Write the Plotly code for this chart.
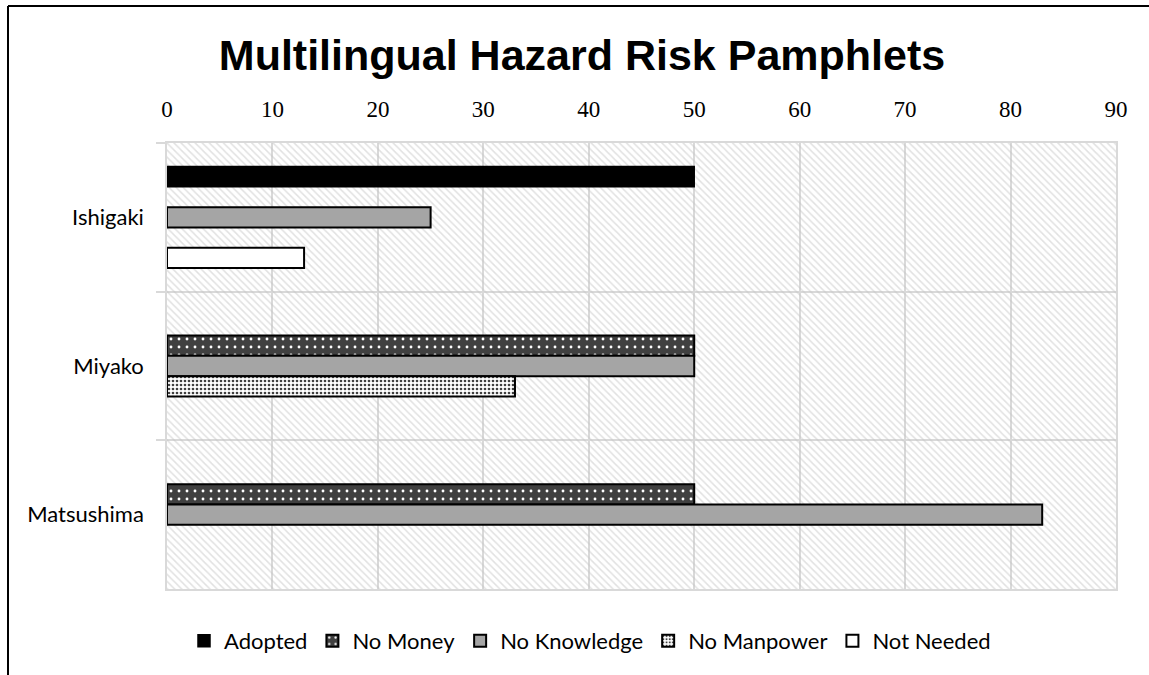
import plotly.graph_objects as go

categories = ["Ishigaki", "Miyako", "Matsushima"]
series_names = ["Adopted", "No Money", "No Knowledge", "No Manpower", "Not Needed"]
adopted = [50, 0, 0]
no_money = [0, 50, 50]
no_knowledge = [25, 50, 83]
no_manpower = [0, 33, 0]
not_needed = [13, 0, 0]
x_ticks = [0, 10, 20, 30, 40, 50, 60, 70, 80, 90]
title_text = "Multilingual Hazard Risk Pamphlets"

W, H = 1149, 675
L, R, T, B = 167, 1116, 143, 589
pw, ph = R - L, B - T

def px_x(p):
    return (p - L) / pw

def px_y(p):
    return (B - p) / ph

styles = {
    "Adopted": dict(color="#000000", line=dict(color="#000000", width=1.5)),
    "No Money": dict(color="#404040", line=dict(color="#000000", width=2),
                     pattern=dict(shape=".", fgcolor="#ffffff", bgcolor="#404040", size=8, solidity=0.1, fillmode="replace")),
    "No Knowledge": dict(color="#a5a5a5", line=dict(color="#000000", width=2)),
    "No Manpower": dict(color="#ffffff", line=dict(color="#000000", width=2),
                        pattern=dict(shape=".", fgcolor="#404040", bgcolor="#ffffff", size=4, solidity=0.35, fillmode="replace")),
    "Not Needed": dict(color="#ffffff", line=dict(color="#000000", width=2)),
}
values = [adopted, no_money, no_knowledge, no_manpower, not_needed]

fig = go.Figure()

# hatched plot-area background (transparent base so gridlines show)
fig.add_trace(go.Bar(
    x=[x_ticks[-1]], y=[1], width=[3], orientation="h", base=[0],
    marker=dict(color="rgba(0,0,0,0)", line=dict(width=0),
                pattern=dict(shape="\\", fgcolor="#c4c4c4", bgcolor="rgba(0,0,0,0)", size=5, solidity=0.3)),
    showlegend=False, hoverinfo="skip", xaxis="x", yaxis="y",
))

for name, vals in zip(series_names, values):
    fig.add_trace(go.Bar(
        name=name, x=[v if v else None for v in vals], y=categories, orientation="h",
        marker=styles[name], xaxis="x", yaxis="y2",
    ))

grid = "#d9d9d9"
fig.update_layout(
    width=W, height=H,
    margin=dict(l=L, r=W - R, t=T, b=H - B, autoexpand=False),
    paper_bgcolor="white", plot_bgcolor="white",
    barmode="group", bargap=0.317, bargroupgap=0,
    title=dict(text="<b>" + title_text + "</b>", x=px_x(582), xref="paper", xanchor="center",
               y=1 - 55 / H, yref="container", yanchor="middle",
               font=dict(family="Liberation Sans", size=43, color="#000000")),
    xaxis=dict(range=[0, 90], side="top", tickvals=x_ticks, showgrid=True, gridcolor=grid, gridwidth=1.5,
               showline=True, mirror=True, linecolor=grid, linewidth=1.5, zeroline=False,
               ticks="", ticklabelstandoff=15,
               tickfont=dict(family="Liberation Serif", size=23, color="#000000"), fixedrange=True),
    yaxis=dict(range=[2.5, -0.5], visible=False, fixedrange=True),
    yaxis2=dict(overlaying="y", type="category", categoryarray=categories, categoryorder="array",
                autorange="reversed", side="left", tickson="boundaries", ticks="outside", ticklen=9,
                tickcolor=grid, tickwidth=1.5, showgrid=True, gridcolor=grid, gridwidth=1.5,
                showline=True, mirror=True, linecolor=grid, linewidth=1.5, ticklabelstandoff=17,
                tickfont=dict(family="Lato", size=22, color="#000000"), fixedrange=True),
    legend=dict(orientation="h", x=px_x(590), xanchor="center", y=px_y(641), yanchor="middle",
                font=dict(family="Lato", size=22, color="#000000"), traceorder="normal"),
    shapes=[
        dict(type="line", xref="paper", yref="paper", x0=px_x(8), x1=px_x(8), y0=px_y(700), y1=px_y(6),
             line=dict(color="#000000", width=2)),
        dict(type="line", xref="paper", yref="paper", x0=px_x(8), x1=px_x(1160), y0=px_y(6), y1=px_y(6),
             line=dict(color="#000000", width=2)),
    ],
)

fig.write_html("out.html", config={"displayModeBar": False},
               post_script="document.body.style.margin='0px';")
